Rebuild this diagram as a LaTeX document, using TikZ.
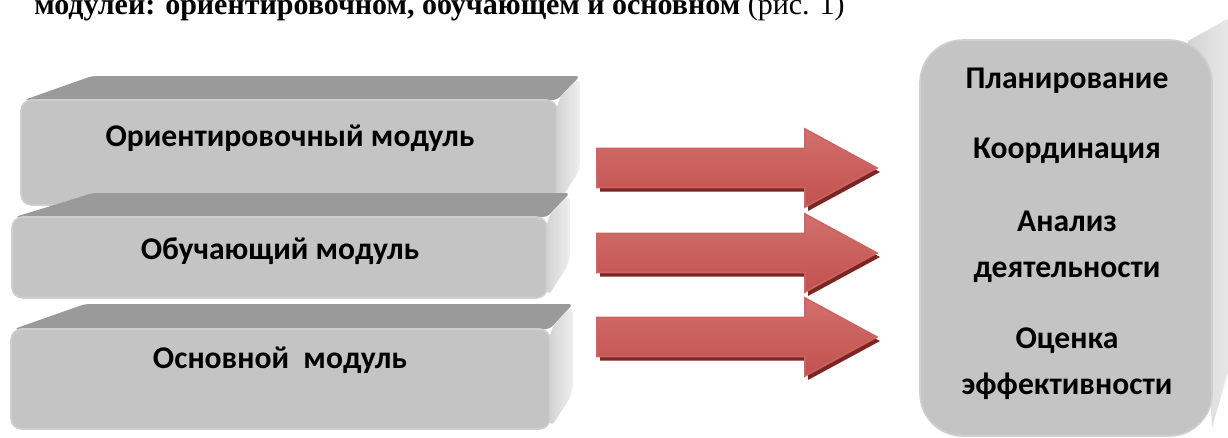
\documentclass[tikz,border=0pt]{standalone}
\usepackage{fontspec}
\setmainfont{Carlito}
\newfontfamily\capfont{Liberation Serif}
\definecolor{frontgray}{HTML}{C4C4C4}
\definecolor{frontedge}{HTML}{CFCFCF}
\definecolor{topgray}{HTML}{9A9A9A}
\definecolor{sidel}{HTML}{D4D4D4}
\definecolor{sider}{HTML}{EEEEEE}
\definecolor{arrred}{HTML}{BE4B48}
\definecolor{arrlight}{HTML}{D2706D}
\definecolor{arredge}{HTML}{CC6461}
\definecolor{arrshadow}{HTML}{7A2624}
\tikzset{
  boxtext/.style={inner sep=0pt, anchor=base, font=\bfseries\fontsize{23.7}{34.5}\selectfont, align=center},
  frontface/.style={fill=frontgray, draw=frontedge, line width=1.2, rounded corners=8},
  topface/.style={fill=topgray, rounded corners=3},
  sideface/.style={left color=sidel, right color=sider, rounded corners=7},
  arrowshadow/.style={fill=arrshadow},
  blockarrow/.style={top color=arrlight, middle color=arrred, bottom color=arrred!85!arrlight, draw=arredge, line width=1.2},
}
\begin{document}
\begin{tikzpicture}[x=0.75pt,y=-0.75pt]
\useasboundingbox (0,0) rectangle (1228,437);
\clip (0,0) rectangle (1228,437);

% caption line (cut at the top)
\node[inner sep=0pt, anchor=base west] (cap) at (34,14)
  {\capfont\fontsize{22.5}{27}\selectfont\bfseries модулей: ориентировочном, обучающем и основном \mdseries(рис. 1)};

% ---- module box 1
\path[topface] (24,100) -- (92,76) -- (580,76) -- (557,100) -- cycle;
\shade[sideface] (557,100) -- (580,76) -- (580,170) -- (557,205) -- cycle;
\path[frontface] (21,100) rectangle (557,205);
\node[boxtext] (m1) at (290,146) {Ориентировочный модуль};

% ---- module box 2
\path[topface] (15,217) -- (93,193) -- (570,193) -- (547,217) -- cycle;
\shade[sideface] (547,217) -- (570,193) -- (570,262) -- (547,298) -- cycle;
\path[frontface] (12,217) rectangle (547,298);
\node[boxtext] (m2) at (280,259) {Обучающий модуль};

% ---- module box 3
\path[topface] (14,329) -- (85,304) -- (573,304) -- (550,329) -- cycle;
\shade[sideface] (550,329) -- (573,304) -- (573,393) -- (550,429) -- cycle;
\path[frontface] (11,329) rectangle (550,429);
\node[boxtext] (m3) at (280,368) {Основной\ \ модуль};

% ---- block arrows
\foreach \c in {168,253,337} {
  \begin{scope}[shift={(0,\c)}]
    \fill[arrowshadow] (600,-15.5) -- (808,-15.5) -- (808,-35) -- (880,4) -- (808,43) -- (808,23.5) -- (600,23.5) -- cycle;
    \shadedraw[blockarrow] (597,-19.5) -- (805,-19.5) -- (805,-39) -- (877,0) -- (805,39) -- (805,19.5) -- (597,19.5) -- cycle;
  \end{scope}
}

% ---- right box
\shade[left color=sidel, right color=sider] (1188,41) -- (1240,12) -- (1240,330) -- (1212,428) -- cycle;
\path[frontface, rounded corners=32] (920,40) rectangle (1212,436);
\node[boxtext] (r1) at (1067,88) {Планирование};
\node[boxtext] (r2) at (1067,158) {Координация};
\node[boxtext, anchor=north] (r3) at (1067,211) {\vphantom{Ая}Анализ\\деятельности};
\node[boxtext, anchor=north] (r4) at (1067,328) {\vphantom{Ая}Оценка\\эффективности};
\end{tikzpicture}
\end{document}
